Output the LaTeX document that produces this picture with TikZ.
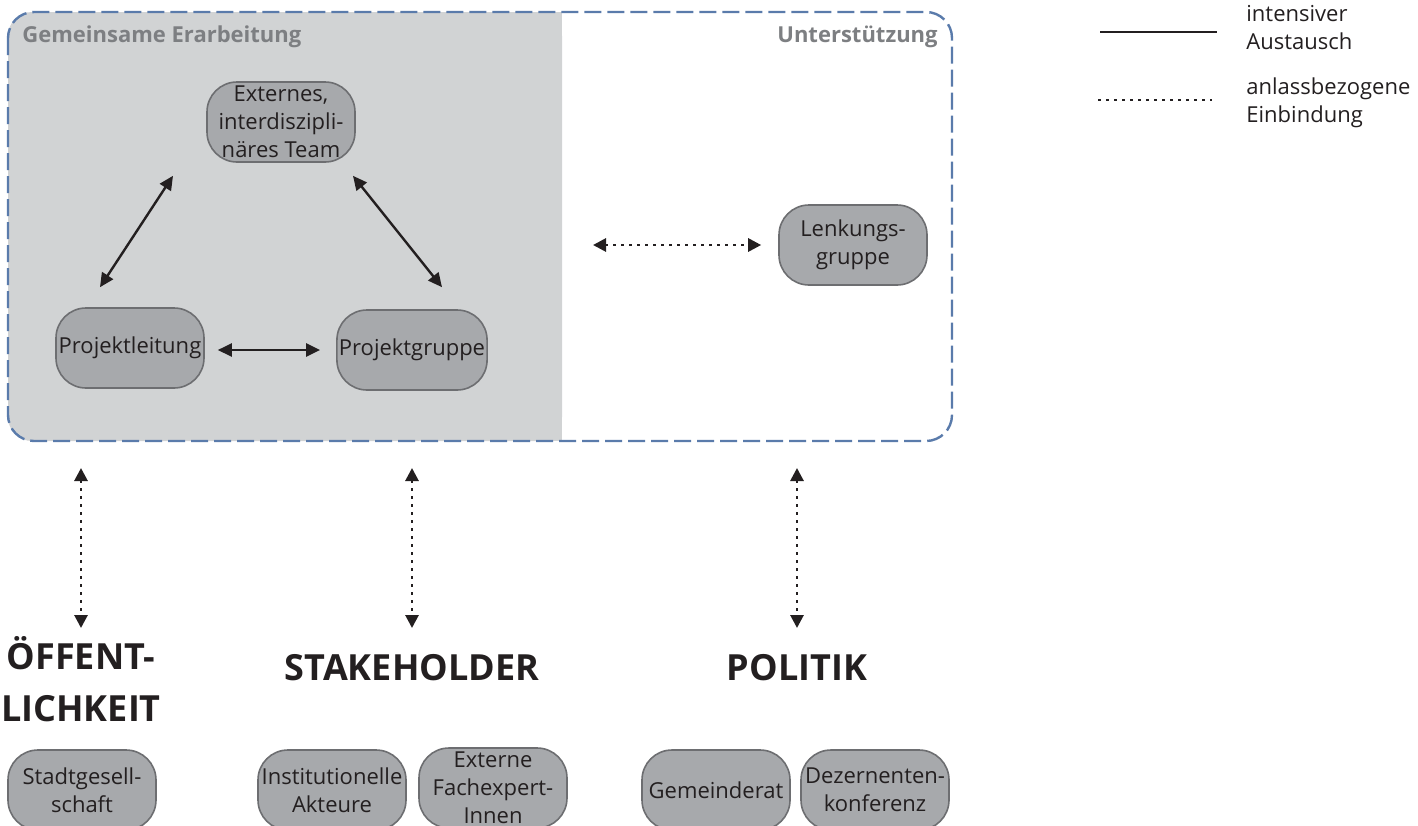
\documentclass[tikz,border=0pt]{standalone}
\usepackage{fontspec}
\setmainfont{Open Sans}
\usetikzlibrary{arrows.meta,calc}
\definecolor{grayfill}{HTML}{D1D3D4}
\definecolor{nodefill}{HTML}{A7A9AC}
\definecolor{nodeborder}{HTML}{6D6E71}
\definecolor{titlegray}{HTML}{7D7F82}
\definecolor{boxblue}{HTML}{5A7BAB}
\definecolor{txt}{HTML}{231F20}
\begin{document}
\begin{tikzpicture}[x=0.5pt,y=-0.5pt,
  actor/.style={draw=nodeborder, fill=nodefill, line width=0.8pt, rounded corners=15pt,
    minimum width=74pt, minimum height=40pt, inner sep=1pt, align=center,
    font=\fontsize{11}{14}\selectfont, text=txt},
  solidarrow/.style={line width=1.2pt, draw=txt,
    {Triangle[length=7pt,width=6.5pt]}-{Triangle[length=7pt,width=6.5pt]}},
  dotarrow/.style={line width=1.4pt, draw=txt, dash pattern=on 1.4pt off 2.6pt,
    {Triangle[length=6.5pt,width=6.5pt]}-{Triangle[length=6.5pt,width=6.5pt]}},
  head/.style={font=\fontsize{18}{26}\selectfont\bfseries, text=txt, inner sep=0pt, align=center},
  paneltitle/.style={font=\fontsize{11}{13}\selectfont\bfseries, text=titlegray, inner sep=0pt},
  legendtext/.style={font=\fontsize{11}{14}\selectfont, text=txt, align=left, inner sep=0pt, anchor=west}
]
\useasboundingbox (0,0) rectangle (1418,825);
\clip (0,0) rectangle (1418,825);

% panels
\fill[grayfill, rounded corners=12pt] (8,12) rectangle (562,441);
\fill[grayfill] (300,12) rectangle (562,441);
\draw[boxblue, line width=1.2pt, dash pattern=on 8.5pt off 3pt, rounded corners=13pt] (8,12) rectangle (952,441);
\node[paneltitle, anchor=base west] (t1) at (22,42) {Gemeinsame Erarbeitung};
\node[paneltitle, anchor=base east] (t2) at (938,42) {Unterstützung};

% core nodes
\node[actor] (ex) at (281,122) {Externes,\\interdiszipli-\\näres Team};
\node[actor] (pl) at (130,348) {Projektleitung};
\node[actor] (pg) at (412,350) {Projektgruppe};
\node[actor] (lg) at (853,245) {Lenkungs-\\gruppe};

\draw[solidarrow] ($(pl.north)+(-30,-20)$) -- ($(ex.south)+(-108,13)$);
\draw[solidarrow] ($(ex.south)+(72,13)$) -- ($(pg.north)+(30,-22)$);
\draw[solidarrow] ($(pl.east)+(13,2)$) -- ($(pg.west)+(-16,0)$);
\coordinate (lgl) at (593,245);
\draw[dotarrow] (lgl) -- ($(lg.west)+(-17,0)$);

% headings
\node[head, anchor=north] (oef) at (81,636) {ÖFFENT-\\LICHKEIT};
\node[head, anchor=base] (stk) at (412,680) {STAKEHOLDER};
\node[head, anchor=base] (pol) at (797,680) {POLITIK};

\coordinate (oefTop) at (81,468);
\coordinate (stkTop) at (412,468);
\coordinate (polTop) at (797,468);
\coordinate (oefBot) at (81,628);
\coordinate (stkBot) at (412,628);
\coordinate (polBot) at (797,628);
\draw[dotarrow] (oefTop) -- (oefBot);
\draw[dotarrow] (stkTop) -- (stkBot);
\draw[dotarrow] (polTop) -- (polBot);

% bottom nodes
\node[actor] (sg) at (82,790) {Stadtgesell-\\schaft};
\node[actor] (ia) at (332,790) {Institutionelle\\Akteure};
\node[actor] (ef) at (493,788) {Externe\\Fachexpert-\\Innen};
\node[actor] (gr) at (716,790) {Gemeinderat};
\node[actor] (dk) at (875,790) {Dezernenten-\\konferenz};

% legend
\coordinate (s1) at (1100,32);
\coordinate (s2) at (1217,32);
\coordinate (d1) at (1098,100);
\coordinate (d2) at (1212,100);
\draw[line width=1.3pt, txt] (s1) -- (s2);
\draw[line width=1.3pt, txt, dash pattern=on 1.3pt off 2.7pt] (d1) -- (d2);
\node[legendtext] (l1) at (1246,28) {intensiver\\Austausch};
\node[legendtext] (l2) at (1246,103) {anlassbezogene\\Einbindung};
\end{tikzpicture}
\end{document}
